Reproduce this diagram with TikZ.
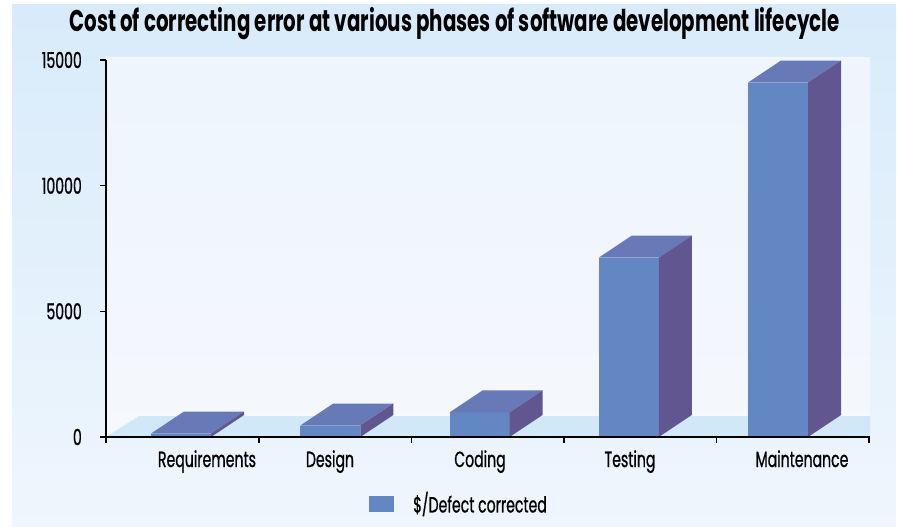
\documentclass[tikz,border=0pt]{standalone}
\usepackage{fontspec}
\setmainfont{Poppins}[FakeStretch=0.66]
\newfontfamily\labelfont{Poppins}[FakeStretch=0.64, FakeBold=0.8]
\definecolor{panelTop}{RGB}{216,235,250}
\definecolor{panelBot}{RGB}{239,246,253}
\definecolor{wallTop}{RGB}{238,245,253}
\definecolor{wallBot}{RGB}{245,248,253}
\definecolor{floorC}{RGB}{208,232,248}
\definecolor{barFront}{RGB}{99,135,195}
\definecolor{barTop}{RGB}{104,121,184}
\definecolor{barSide}{RGB}{98,86,145}
\tikzset{
  axisline/.style={line width=1.3pt, black},
  ticklabel/.style={font=\labelfont\fontsize{22}{25}\selectfont, inner sep=0pt},
  catlabel/.style={font=\labelfont\fontsize{22}{25}\selectfont, inner sep=0pt, anchor=base},
  frontface/.style={fill=barFront},
  topface/.style={fill=barTop},
  sideface/.style={fill=barSide},
}
\begin{document}
\begin{tikzpicture}[x=1pt, y={(0pt,-1pt)}]
\useasboundingbox (0,0) rectangle (898,527);
% outer panel and back wall
\fill[white] (0,0) rectangle (898,527);
\shade[top color=panelTop, bottom color=panelBot] (12,5) rectangle (896,527);
\shade[top color=wallTop, bottom color=wallBot] (106,58) rectangle (870,437);
% floor
\fill[floorC] (106,437) -- (139,416) -- (870,416) -- (870,437) -- cycle;
% bars: left x of front face, value
\foreach \bx/\val/\nm in {151/139/req, 300.25/455/des, 449.5/977/cod, 598.75/7136/tst, 748/14102/mnt} {
  \pgfmathsetmacro\ty{437-\val/15000*377}
  \fill[frontface] (\bx,437) rectangle (\bx+60,\ty);
  \fill[topface] (\bx,\ty) -- (\bx+60,\ty) -- (\bx+93,\ty-22) -- (\bx+33,\ty-22) -- cycle;
  \fill[sideface] (\bx+60,437) -- (\bx+93,415) -- (\bx+93,\ty-22) -- (\bx+60,\ty) -- cycle;
}
% axes
\coordinate (ytop) at (106,60);
\coordinate (ybot) at (106,443);
\coordinate (xleft) at (100,437);
\coordinate (xright) at (870,437);
\draw[axisline] (ytop) -- (ybot);
\draw[axisline] (xleft) -- (xright);
\foreach \v/\yy in {0/437, 5000/311.3, 10000/185.7, 15000/60} {
  \draw[axisline] (100,\yy) -- (106,\yy);
  \node[ticklabel, anchor=east] (yl\v) at (82,\yy) {\v};
}
\foreach \tx in {259,411.5,564,716.5,869} {
  \draw[axisline] (\tx,437) -- (\tx,443);
}
% category labels
\node[catlabel] (lreq) at (207,467) {Requirements};
\node[catlabel] (ldes) at (330,467) {Design};
\node[catlabel] (lcod) at (480,467) {Coding};
\node[catlabel] (ltst) at (630,467) {Testing};
\node[catlabel] (lmnt) at (802,467) {Maintenance};
% title
\node[font=\bfseries\fontsize{30}{33}\selectfont, anchor=base, inner sep=0pt] (title) at (454.5,32) {Cost of correcting error at various phases of software development lifecycle};
% legend
\node[fill=barFront, minimum width=25pt, minimum height=16pt, inner sep=0pt] (legsw) at (381.5,504) {};
\node[ticklabel, anchor=west] (legtx) at (413,504) {\$/Defect corrected};
\end{tikzpicture}
\end{document}
